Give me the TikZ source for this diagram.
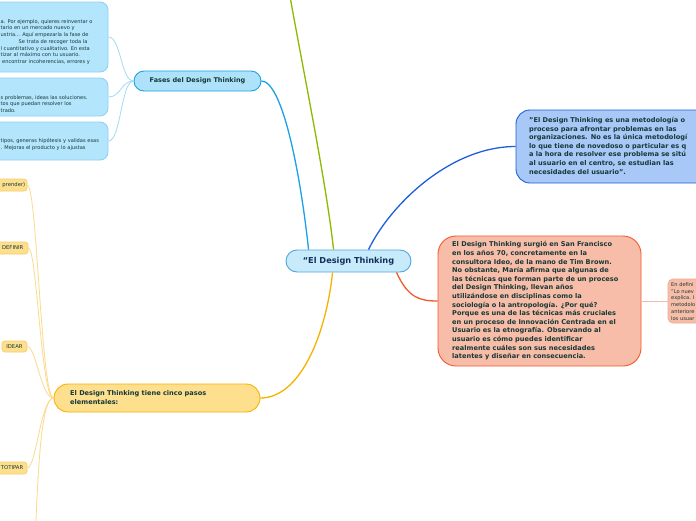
\documentclass[tikz,border=0pt]{standalone}
\usepackage{fontspec}
\setmainfont{DejaVu Sans}
\usetikzlibrary{calc}
\definecolor{lbfill}{HTML}{B3E5FC}
\definecolor{lbdraw}{HTML}{8ED3F5}
\definecolor{lbline}{HTML}{A3DBF6}
\definecolor{fasesfill}{HTML}{AEE2FA}
\definecolor{fasesdraw}{HTML}{1BA1E6}
\definecolor{cfill}{HTML}{C8EBFB}
\definecolor{cdraw}{HTML}{4FA6DD}
\definecolor{ctext}{HTML}{13305A}
\definecolor{txt}{HTML}{163836}
\definecolor{greenline}{HTML}{8CBA00}
\definecolor{rtfill}{HTML}{A8C8F8}
\definecolor{rtdraw}{HTML}{1F60DA}
\definecolor{orfill}{HTML}{F8BDA8}
\definecolor{ordraw}{HTML}{F05A2C}
\definecolor{salline}{HTML}{F6BBA6}
\definecolor{saldraw}{HTML}{F3A88C}
\definecolor{yfill}{HTML}{FDDF8E}
\definecolor{ydraw}{HTML}{F5B300}
\definecolor{ylight}{HTML}{FBDA8A}
\definecolor{ysmdraw}{HTML}{F8CE6A}
\newcommand\fsmall{\fontsize{5.1}{6.7}\selectfont}
\newcommand\fbold{\bfseries\fontsize{6.6}{8.6}\selectfont}
\newcommand\fyel{\fontsize{5.3}{6.5}\selectfont}
\begin{document}
\begin{tikzpicture}[x=1pt,y=-1pt,
  shapebox/.style={rectangle,inner sep=0,line width=0.9pt},
  lbbox/.style={shapebox,fill=lbfill,draw=lbdraw,rounded corners=8pt},
  ysmall/.style={shapebox,fill=yfill,draw=ysmdraw,rounded corners=3pt,line width=0.7pt},
  txtnode/.style={inner sep=0,anchor=north west,align=left,text=txt},
  mainline/.style={line width=1.3pt},
  leafline/.style={line width=0.8pt}]
\useasboundingbox (0,0) rectangle (696,520);
\clip (0,0) rectangle (696,520);
\fill[white] (0,0) rectangle (696,520);

% ---- nodes (shapes)
\node[lbbox,minimum width=208pt,minimum height=70pt] (box1) at (4,37) {};
\node[lbbox,minimum width=208pt,minimum height=38pt] (box2) at (4,97) {};
\node[lbbox,minimum width=208pt,minimum height=38pt] (box3) at (4,141) {};
\node[shapebox,fill=fasesfill,draw=fasesdraw,rounded corners=10pt,minimum width=127pt,minimum height=20pt,text=txt,font=\bfseries\fontsize{6.5}{8}\selectfont] (fases) at (197.5,81) {Fases del Design Thinking};
\node[shapebox,fill=cfill,draw=cdraw,rounded corners=11pt,minimum width=125pt,minimum height=22pt,text=ctext,font=\bfseries\fontsize{8.2}{10}\selectfont] (center) at (348.5,261) {“El Design Thinking};
\node[shapebox,fill=rtfill,draw=rtdraw,rounded corners=14pt,minimum width=244pt,minimum height=73pt] (rt) at (638,146.5) {};
\node[shapebox,fill=orfill,draw=ordraw,rounded corners=18pt,minimum width=203pt,minimum height=130pt] (orange) at (539.5,301) {};
\node[shapebox,fill=orfill,draw=saldraw,rounded corners=5pt,line width=0.7pt,minimum width=72pt,minimum height=44pt] (sal) at (704,301) {};
\node[shapebox,fill=yfill,draw=ydraw,rounded corners=14pt,minimum width=206pt,minimum height=28pt] (yel) at (157,398) {};
\node[ysmall,minimum width=67pt,minimum height=12pt] (emp) at (-6.5,185) {};
\node[ysmall,minimum width=48pt,minimum height=12pt] (def) at (4,248) {};
\node[ysmall,minimum width=25pt,minimum height=11pt] (ide) at (14.5,346.5) {};
\node[ysmall,minimum width=47pt,minimum height=12pt] (pro) at (3.5,468) {};
\coordinate (tes) at (35,545);
\coordinate (upper) at (288,-15);

% ---- texts
\node[txtnode,font=\fsmall] (t1) at (0.5,19.2) {a. Por ejemplo, quieres reinventar o\\tario en un mercado nuevo y\\ustria... Aquí empezaría la fase de\\\hspace*{18pt}Se trata de recoger toda la\\l cuantitativo y cualitativo. En esta\\tizar al máximo con tu usuario.\\\hspace*{1.5pt}encontrar incoherencias, errores y};
\node[txtnode,font=\fsmall] (t2) at (0.5,95) {s problemas, ideas las soluciones.\\tos que puedan resolver los\\trado.};
\node[txtnode,font=\fsmall] (t3) at (0.5,138.5) {tipos, generas hipótesis y validas esas\\. Mejoras el producto y lo ajustas};
\node[txtnode,font=\fbold] (trt) at (529,117) {"El Design Thinking es una metodología o\\proceso para afrontar problemas en las\\organizaciones. No es la única metodologí\\lo que tiene de novedoso o particular es q\\a la hora de resolver ese problema se sitú\\al usuario en el centro, se estudian las\\necesidades del usuario".};
\node[txtnode,font=\fbold] (tor) at (452,241.5) {El Design Thinking surgió en San Francisco\\en los años 70, concretamente en la\\consultora Ideo, de la mano de Tim Brown.\\No obstante, María afirma que algunas de\\las técnicas que forman parte de un proceso\\del Design Thinking, llevan años\\utilizándose en disciplinas como la\\sociología o la antropología. ¿Por qué?\\Porque es una de las técnicas más cruciales\\en un proceso de Innovación Centrada en el\\Usuario es la etnografía. Observando al\\usuario es cómo puedes identificar\\realmente cuáles son sus necesidades\\latentes y diseñar en consecuencia.};
\node[txtnode,font=\fsmall] (tsal) at (671,282.5) {En defini\\"Lo nuev\\explica. I\\metodolo\\anteriore\\los usuar};
\node[txtnode,font=\fbold] (tyel) at (70,390.5) {El Design Thinking tiene cinco pasos\\elementales:};
\node[inner sep=0,anchor=east,text=txt,font=\fyel] (temp) at (25.5,185) {prender)};
\node[inner sep=0,anchor=east,text=txt,font=\fyel] (tdef) at (23.5,248) {DEFINIR};
\node[inner sep=0,text=txt,font=\fyel] (tide) at (ide) {IDEAR};
\node[inner sep=0,anchor=east,text=txt,font=\fyel] (tpro) at (23.5,468) {TOTIPAR};

% ---- connectors
\draw[mainline,draw=fasesdraw] (fases.east) .. controls (282,81) and (300,170) .. ($(center.north west)+(23,0)$);
\draw[mainline,draw=greenline] (upper) .. controls (301,60) and (326,180) .. ($(center.north west)+(48,0)$);
\draw[mainline,draw=rtdraw] ($(center.north west)+(83,0)$) .. controls (390,205) and (450,146.5) .. (rt.west);
\draw[mainline,draw=ordraw] ($(center.south west)+(111,0)$) .. controls (408,298) and (420,301) .. (orange.west);
\draw[mainline,draw=ydraw] ($(center.south west)+(47,0)$) .. controls (326,335) and (300,398) .. (yel.east);
\draw[leafline,draw=salline] (orange.east) -- (sal.west);
\draw[leafline,draw=lbline] (fases.west) .. controls (121,81) and (121,37) .. (box1.east);
\draw[leafline,draw=lbline] (fases.west) .. controls (121,81) and (121,97) .. (box2.east);
\draw[leafline,draw=lbline] (fases.west) .. controls (121,81) and (121,141) .. (box3.east);
\draw[leafline,draw=ylight] (yel.west) .. controls (41,398) and (37,185) .. (emp.east);
\draw[leafline,draw=ylight] (yel.west) .. controls (41,398) and (37,248) .. (def.east);
\draw[leafline,draw=ylight] (yel.west) .. controls (41,398) and (36,346.5) .. (ide.east);
\draw[leafline,draw=ylight] (yel.west) .. controls (41,398) and (36,468) .. (pro.east);
\draw[leafline,draw=ylight] (yel.west) .. controls (41,398) and (38,470) .. (tes);
\end{tikzpicture}
\end{document}
